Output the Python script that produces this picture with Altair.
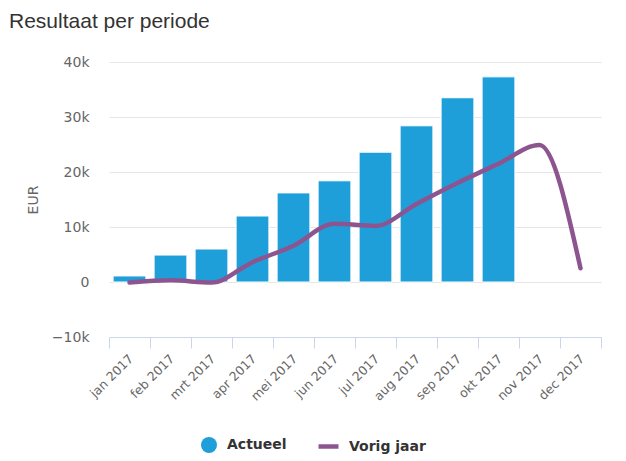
import altair as alt
import pandas as pd

months = ["jan 2017", "feb 2017", "mrt 2017", "apr 2017", "mei 2017", "jun 2017",
          "jul 2017", "aug 2017", "sep 2017", "okt 2017", "nov 2017", "dec 2017"]
actueel = [1100, 4900, 6000, 12000, 16200, 18400, 23600, 28400, 33500, 37300, None, None]
vorig = [-100, 300, -100, 3600, 6600, 10600, 10200, 14200, 18000, 21500, 24900, 2500]
y_ticks = [-10000, 0, 10000, 20000, 30000, 40000]

bars_df = pd.DataFrame({"maand": months, "waarde": actueel, "reeks": "Actueel"}).dropna()
line_df = pd.DataFrame({"maand": months, "waarde": vorig, "reeks": "Vorig jaar"})

FONT = "DejaVu Sans"

x_enc = alt.X(
    "maand:N", sort=months,
    scale=alt.Scale(paddingInner=0, paddingOuter=0),
    axis=alt.Axis(title=None, labelAngle=-45, tickBand="extent", tickSize=11,
                  tickColor="#ccd6eb", domainColor="#ccd6eb", grid=False,
                  labelFontSize=12.5, labelColor="#666666", labelFont=FONT,
                  labelPadding=4, labelOffset=-3),
)
y_axis = alt.Axis(title="EUR", values=y_ticks,
                  labelExpr="datum.value == 0 ? '0' : format(datum.value, '~s')",
                  domain=False, ticks=False,
                  gridColor="#e6e6e6", labelFontSize=14, labelColor="#666666",
                  labelFont=FONT, labelPadding=20, titleFont=FONT, titleFontSize=14,
                  titleColor="#666666", titleFontWeight="normal", titlePadding=11)
y_scale = alt.Scale(domain=[-10000, 40000], nice=False)

bars = alt.Chart(bars_df).mark_bar(
    width=alt.RelativeBandSize(0.8), stroke="white", strokeWidth=1
).encode(
    x=x_enc,
    y=alt.Y("waarde:Q", scale=y_scale, axis=y_axis),
    fill=alt.Fill("reeks:N", scale=alt.Scale(domain=["Actueel"], range=["#1f9fd9"]),
                  legend=alt.Legend(title=None, orient="none", legendX=92, legendY=375,
                                    symbolType="circle", symbolSize=256,
                                    symbolStrokeWidth=0, labelFont=FONT,
                                    labelFontSize=14, labelFontWeight="bold",
                                    labelColor="#333333", labelOffset=10)),
)

line = alt.Chart(line_df).mark_line(
    strokeWidth=4.5, interpolate="monotone", strokeCap="round"
).encode(
    x=x_enc,
    y=alt.Y("waarde:Q", scale=y_scale, axis=y_axis),
    stroke=alt.Stroke("reeks:N", scale=alt.Scale(domain=["Vorig jaar"], range=["#8d5590"]),
                      legend=alt.Legend(title=None, orient="none", legendX=207, legendY=372,
                                        symbolType="stroke", symbolSize=400,
                                        symbolStrokeWidth=4.5, labelFont=FONT,
                                        labelFontSize=14, labelFontWeight="bold",
                                        labelColor="#333333", labelOffset=8)),
)

chart = alt.layer(bars, line).resolve_scale(fill="independent", stroke="independent").properties(
    width=492, height=275,
    autosize=alt.AutoSizeParams(type="none"),
    padding={"left": 101, "top": 54, "right": 17, "bottom": 122},
    title=alt.TitleParams("Resultaat per periode", anchor="start", frame="group",
                          font="Liberation Sans", fontSize=21, fontWeight="normal",
                          color="#333333", dx=-100, dy=-23, offset=0),
).configure_view(stroke=None)

chart.save("out.html", embed_options={"renderer": "svg", "actions": False})
